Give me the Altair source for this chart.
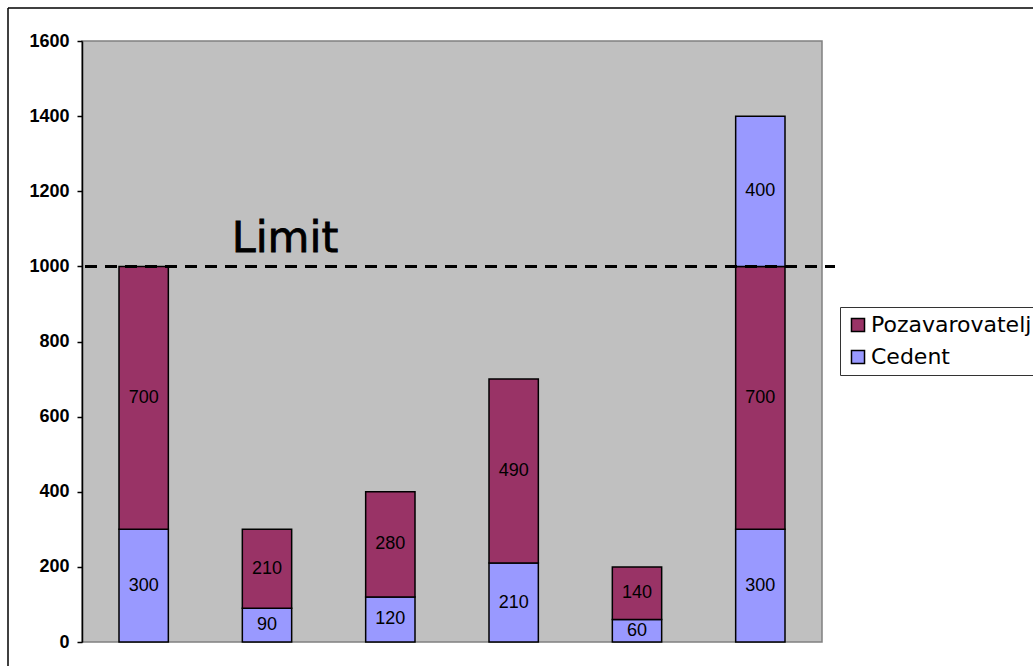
import altair as alt
import pandas as pd

# Bar categories (no visible labels on the x axis)
categories = ["A", "B", "C", "D", "E", "F"]
# Stacked segments, bottom to top
cedent = [300, 90, 120, 210, 60, 300]
pozavarovatelj = [700, 210, 280, 490, 140, 700]
cedent_excess = [0, 0, 0, 0, 0, 400]
limit_value = 1000
y_ticks = [0, 200, 400, 600, 800, 1000, 1200, 1400, 1600]

rows = []
for i, c in enumerate(categories):
    rows.append({"cat": c, "seg": 0, "series": "Cedent", "value": cedent[i]})
    rows.append({"cat": c, "seg": 1, "series": "Pozavarovatelj", "value": pozavarovatelj[i]})
    if cedent_excess[i] > 0:
        rows.append({"cat": c, "seg": 2, "series": "Cedent", "value": cedent_excess[i]})
df = pd.DataFrame(rows)

W, H = 740, 601
PAD_L, PAD_T = 82, 41
TOTAL_W, TOTAL_H = 1033, 666

x_enc = alt.X("cat:N", sort=categories, axis=None,
              scale=alt.Scale(paddingInner=0.6, paddingOuter=0.3))
y_scale = alt.Scale(domain=[0, 1600], nice=False)

base = alt.Chart(df).transform_stack(
    stack="value", groupby=["cat"], sort=[alt.SortField("seg")], as_=["y0", "y1"]
).transform_calculate(mid="(datum.y0 + datum.y1) / 2")

bars = base.mark_bar(stroke="black", strokeWidth=1.5).encode(
    x=x_enc,
    y=alt.Y("y0:Q", scale=y_scale,
            axis=alt.Axis(values=y_ticks, format="d", title=None, grid=False,
                          domainColor="black", domainWidth=1.5, tickColor="black",
                          tickSize=5, tickWidth=1.5,
                          labelFont="Liberation Sans", labelFontWeight="bold",
                          labelFontSize=18, labelColor="black", labelPadding=8)),
    y2="y1:Q",
    color=alt.Color("series:N",
                    scale=alt.Scale(domain=["Pozavarovatelj", "Cedent"],
                                    range=["#993366", "#9999FF"]),
                    legend=alt.Legend(title=None, orient="none", legendX=758, legendY=266,
                                      symbolType="square", symbolSize=170,
                                      symbolStrokeColor="black", symbolStrokeWidth=1.5,
                                      labelFont="DejaVu Sans", labelFontSize=22,
                                      labelColor="black", labelLimit=400,
                                      rowPadding=10, labelOffset=2, padding=7,
                                      strokeColor="#333333", fillColor="white")),
)

labels = base.mark_text(font="Liberation Sans", fontSize=18, color="black",
                        baseline="middle").encode(
    x=x_enc,
    y=alt.Y("mid:Q", scale=y_scale),
    text=alt.Text("value:Q"),
)

limit_df = pd.DataFrame({"limit": [limit_value], "label": ["Limit"]})
limit_line = alt.Chart(limit_df).mark_rule(
    color="black", strokeWidth=3, strokeDash=[12, 8]
).encode(y=alt.Y("limit:Q", scale=y_scale), x=alt.value(3), x2=alt.value(753))

limit_text = alt.Chart(limit_df).mark_text(
    font="DejaVu Sans", fontSize=43, color="black", align="center",
    baseline="alphabetic", dy=-14, stroke="black", strokeWidth=0.8
).encode(y=alt.Y("limit:Q", scale=y_scale), x=alt.value(203), text="label:N")

# Outer chart frame (left and top edges)
frame_left = alt.Chart(limit_df).mark_rule(color="black", strokeWidth=1.5).encode(
    x=alt.value(-74), y=alt.value(-33), y2=alt.value(H + 60))
frame_top = alt.Chart(limit_df).mark_rule(color="black", strokeWidth=1.5).encode(
    x=alt.value(-74), x2=alt.value(W + 300), y=alt.value(-33))

chart = alt.layer(
    bars, labels, limit_line, limit_text, frame_left, frame_top
).properties(
    width=W, height=H,
    autosize=alt.AutoSizeParams(type="none"),
    padding={"left": PAD_L, "top": PAD_T,
             "right": TOTAL_W - PAD_L - W, "bottom": TOTAL_H - PAD_T - H},
    background="white",
).configure_view(fill="#C0C0C0", stroke="#808080", strokeWidth=1.5)

chart.save("out.html", embed_options={"renderer": "svg", "actions": False})
